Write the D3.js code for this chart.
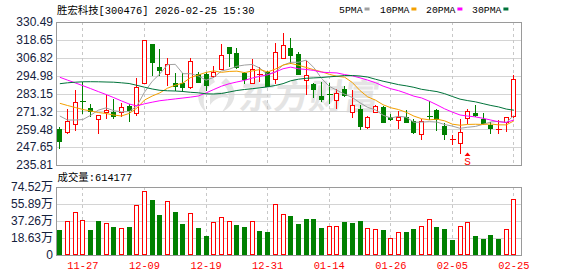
<!DOCTYPE html>
<html><head><meta charset="utf-8">
<script src="https://cdn.jsdelivr.net/npm/d3@7"></script>
<style>body{margin:0;background:#fff}svg{display:block}</style>
</head><body><svg id="chart" width="578" height="276"></svg>
<script>
// 胜宏科技 daily K-line with moving averages and volume
const stockName = "胜宏科技";
const stockCode = "300476";
const quoteTime = "2026-02-25 15:30";

const dates = ["11-24","11-25","11-26","11-27","11-28","12-01","12-02","12-03","12-04","12-05",
  "12-08","12-09","12-10","12-11","12-12","12-15","12-16","12-17","12-18","12-19",
  "12-22","12-23","12-24","12-25","12-26","12-29","12-30","12-31","01-05","01-06",
  "01-07","01-08","01-09","01-12","01-13","01-14","01-15","01-16","01-19","01-20",
  "01-21","01-22","01-23","01-26","01-27","01-28","01-29","01-30","02-02","02-03",
  "02-04","02-05","02-06","02-09","02-10","02-11","02-12","02-13","02-24","02-25"];

const open = [259.84,257.9,262.8,278.0,273.55,266.07,270.7,270.9,271.1,275.07,
  270.0,290.4,315.9,300.7,295.86,290.3,289.9,287.65,295.86,296.26,
  294.7,299.4,313.74,309.96,296.7,290.3,295.9,297.2,292.5,306.85,
  313.1,309.1,291.9,289.6,281.3,282.7,278.65,286.1,270.7,273.1,
  261.2,271.1,274.4,267.8,265.5,267.4,264.95,256.1,268.0,272.2,
  261.6,252.6,250.2,266.7,270.0,266.5,262.3,259.4,264.5,268.45];
const high = [261.19,272.9,285.5,290.97,276.2,269.2,281.96,279.5,277.06,276.2,
  293.2,318.6,316.2,312.4,306.45,296.9,296.5,306.45,297.6,297.6,
  301.36,315.9,314.0,313.1,297.6,305.8,300.5,298.2,316.4,323.4,
  320.1,310.6,304.9,290.0,290.97,289.9,286.1,288.1,285.5,275.5,
  268.25,275.5,275.0,269.4,271.8,272.2,266.07,266.27,278.4,272.7,
  263.4,255.67,266.07,273.1,275.5,270.0,264.5,265.6,267.8,295.4];
const low = [247.3,257.2,259.0,270.0,268.25,257.2,267.1,267.1,268.25,265.1,
  268.9,289.9,295.4,295.4,288.6,285.5,284.8,287.0,291.0,285.5,
  294.3,299.3,301.6,299.8,290.3,289.9,291.4,288.0,289.9,306.45,
  303.14,295.9,282.8,280.6,278.4,276.7,273.75,281.3,267.8,259.6,
  260.5,270.9,264.5,265.6,260.5,264.5,257.2,253.2,266.3,259.0,
  253.0,249.7,243.96,263.8,268.25,262.96,256.8,256.8,258.5,267.8];
const close = [251.9,264.98,277.5,277.7,271.56,268.9,272.4,268.25,274.0,272.2,
  287.25,318.37,304.2,298.9,302.5,288.3,287.25,304.47,291.0,288.8,
  297.6,308.5,310.2,300.9,292.7,299.57,296.2,288.3,310.4,315.26,
  308.84,296.25,295.4,285.9,279.5,282.4,283.3,282.2,275.3,261.6,
  267.4,274.9,264.5,266.1,267.5,264.5,257.9,264.95,267.7,266.07,
  256.3,252.9,257.46,271.4,268.7,263.4,260.5,259.6,267.4,292.5];
// volume in 万手
const volume = [27.4,36.9,46.8,38.0,27.4,37.3,34.7,30.7,29.6,30.7,
  54.4,69.8,60.3,43.8,58.8,47.1,34.0,45.7,29.6,20.8,
  35.8,41.3,36.9,32.9,30.7,36.9,26.3,25.2,55.5,44.6,
  42.7,34.0,39.5,39.5,29.6,31.4,31.4,36.2,35.1,37.3,
  29.2,28.2,27.4,18.3,24.9,25.2,28.5,31.4,39.1,30.7,
  28.5,16.4,31.4,35.8,20.8,17.5,21.9,17.5,28.2,61.4177];

// moving-average values for days whose window starts before the first bar shown
const ma5Head = [268.25,265.6,265.6,265.93];
const ma10Head = [276.66,275.2,273.88,272.55,271.56,270.57,269.91,268.91,268.25];
const ma20Head = [293.88,292.02,290.17,288.31,286.39,284.41,282.49,280.43,278.25,276.2,
  274.94,276.33,277.39,278.38,278.98,279.57,280.17,280.77,281.5];
const ma30Head = [289.64,290.23,290.63,290.9,290.96,290.9,290.76,290.63,290.23,289.77,
  288.58,287.32,286.13,285.27,284.94,284.8,284.47,283.94,283.61,282.95,
  282.82,283.15,284.14,285.14,285.8,286.33,286.92,287.59,288.45];

const priceTicks = [235.81,247.65,259.48,271.32,283.15,294.98,306.82,318.65,330.49];
const volumeTicks = [0,18.63,37.26,55.89,74.52];
const dateTicks = ["11-27","12-09","12-19","12-31","01-14","01-26","02-05","02-25"];
const maNames = ["5PMA","10PMA","20PMA","30PMA"];
const signalDay = "02-09";

const UP = "#ff0000", DOWN = "#008000";
const maColors = ["#a0a0a0","#f4a000","#ff00ff","#00733a"];
const labelColor = "#14213d";
const gridColor = "#d4d4d4";
const frameColor = "#9a9a9a";
const monoFont = "'Liberation Mono','Noto Sans CJK SC',monospace";
const sansFont = "'Liberation Sans','Noto Sans CJK SC',sans-serif";

const L = 56, R = 522;
const mainTop = 22, mainBottom = 165;
const volTop = 187, volBottom = 255;

const svg = d3.select("#chart");

const x = d3.scaleBand().domain(dates).range([L, 517.8]).padding(0);
const cx = d => Math.floor(x(d) + x.bandwidth() / 2) + 0.5;
const y = d3.scaleLinear().domain([235.81, 330.49]).range([mainBottom, mainTop]);
const yv = d3.scaleLinear().domain([0, 74.52]).range([volBottom, volTop]);

// moving averages from closes, seeded by the lead-in values
function movingAverage(n, head) {
  return close.map((c, i) => {
    if (i < head.length) return head[i];
    return d3.mean(close.slice(i - n + 1, i + 1));
  });
}
const maSeries = [movingAverage(5, ma5Head), movingAverage(10, ma10Head),
  movingAverage(20, ma20Head), movingAverage(30, ma30Head)];

// watermark
const wm = svg.append("g").attr("fill", "#e4e4e4").attr("stroke", "none");
wm.append("path")
  .attr("d", "M212,76 C196,84 194,102 206,112 C201,100 204,88 215,82 Z M226,78 C238,88 238,104 222,112 C231,100 231,89 221,83 Z M210,96 C217,89 227,91 229,98 C222,96 215,98 210,105 Z");
wm.append("text").attr("x", 238).attr("y", 109)
  .attr("font-family", "'Noto Sans CJK SC',sans-serif").attr("font-weight", "bold")
  .attr("font-size", 35).attr("transform", "skewX(-8) translate(15,0)")
  .text("东方财富");

// horizontal gridlines
const grid = svg.append("g").attr("stroke", gridColor).attr("shape-rendering", "crispEdges");
priceTicks.slice(1, -1).forEach(t => {
  grid.append("line").attr("x1", L).attr("x2", R).attr("y1", Math.round(y(t)) + 0.5).attr("y2", Math.round(y(t)) + 0.5);
});
volumeTicks.slice(1, -1).forEach(t => {
  grid.append("line").attr("x1", L).attr("x2", R).attr("y1", Math.round(yv(t)) + 0.5).attr("y2", Math.round(yv(t)) + 0.5);
});
// vertical dashed gridlines at labelled dates
dateTicks.forEach(d => {
  [[mainTop, mainBottom], [volTop, volBottom]].forEach(([a, b]) => {
    grid.append("line").attr("x1", cx(d)).attr("x2", cx(d)).attr("y1", a).attr("y2", b)
      .attr("stroke-dasharray", "3,3").attr("stroke", "#c8c8c8");
  });
});

// candles
const candles = svg.append("g").attr("shape-rendering", "crispEdges");
dates.forEach((d, i) => {
  const o = open[i], c = close[i], up = c > o;
  const col = up ? UP : DOWN;
  const xc = cx(d);
  candles.append("line").attr("x1", xc).attr("x2", xc)
    .attr("y1", Math.round(y(high[i]))).attr("y2", Math.round(y(low[i])) + 1)
    .attr("stroke", col);
  const top = Math.round(y(Math.max(o, c))), bot = Math.round(y(Math.min(o, c)));
  if (bot - top < 2) {
    candles.append("line").attr("x1", xc - 3).attr("x2", xc + 3)
      .attr("y1", top + 0.5).attr("y2", top + 0.5).attr("stroke", col).attr("stroke-width", 1);
  } else if (up) {
    candles.append("rect").attr("x", xc - 2).attr("y", top + 0.5).attr("width", 4).attr("height", bot - top)
      .attr("fill", "#fff").attr("stroke", col);
  } else {
    candles.append("rect").attr("x", xc - 2.5).attr("y", top).attr("width", 5).attr("height", bot - top + 1)
      .attr("fill", col);
  }
});

// moving average lines
const line = d3.line().x((v, i) => x(dates[i]) + x.bandwidth() / 2).y(v => y(v));
maSeries.forEach((s, k) => {
  svg.append("path").datum(s).attr("d", line).attr("fill", "none")
    .attr("stroke", maColors[k]).attr("stroke-width", 1);
});

// sell signal marker
const sx = cx(signalDay);
svg.append("path").attr("d", `M${sx},152.5 L${sx + 3},156 L${sx - 3},156 Z`).attr("fill", UP);
svg.append("text").attr("x", sx).attr("y", 164.5).attr("text-anchor", "middle")
  .attr("font-family", monoFont).attr("font-size", 11).attr("fill", UP).text("S");

// volume bars, coloured by change from previous close
const vbars = svg.append("g").attr("shape-rendering", "crispEdges");
dates.forEach((d, i) => {
  const up = i === 0 ? close[i] > open[i] : close[i] >= close[i - 1];
  const xc = cx(d);
  const top = Math.round(yv(volume[i]));
  if (up) {
    vbars.append("rect").attr("x", xc - 2).attr("y", top + 0.5).attr("width", 4).attr("height", volBottom - top - 1)
      .attr("fill", "#fff").attr("stroke", UP);
  } else {
    vbars.append("rect").attr("x", xc - 2.5).attr("y", top).attr("width", 5).attr("height", volBottom - top)
      .attr("fill", DOWN);
  }
});

// frames
const frames = svg.append("g").attr("fill", "none").attr("stroke", frameColor).attr("shape-rendering", "crispEdges");
frames.append("rect").attr("x", L + 0.5).attr("y", mainTop + 0.5).attr("width", R - L - 1).attr("height", mainBottom - mainTop);
frames.append("rect").attr("x", L + 0.5).attr("y", volTop + 0.5).attr("width", R - L - 1).attr("height", volBottom - volTop);

// axes
const priceAxis = svg.append("g").attr("transform", `translate(${L},0)`)
  .call(d3.axisLeft(y).tickValues(priceTicks).tickSize(0).tickPadding(3).tickFormat(d => d.toFixed(2)));
const volAxis = svg.append("g").attr("transform", `translate(${L},0)`)
  .call(d3.axisLeft(yv).tickValues(volumeTicks).tickSize(0).tickPadding(3)
    .tickFormat(d => d === 0 ? "0" : d.toFixed(2) + "万"));
[priceAxis, volAxis].forEach(g => {
  g.select(".domain").remove();
  g.selectAll("text").attr("font-family", sansFont).attr("font-size", 12).attr("fill", labelColor);
});
const dateAxis = svg.append("g").attr("transform", `translate(0,${volBottom})`)
  .call(d3.axisBottom(x).tickValues(dateTicks).tickSize(0).tickPadding(7));
dateAxis.select(".domain").remove();
dateAxis.selectAll("text").attr("font-family", monoFont).attr("font-size", 10.4).attr("fill", UP);

// title
svg.append("text").attr("x", 57).attr("y", 13.5).attr("font-family", monoFont).attr("font-size", 10.4)
  .attr("fill", "#000").text(`${stockName}[${stockCode}] ${quoteTime}`);

// legend
const legendX = [339, 380, 426, 472];
maNames.forEach((n, k) => {
  const t = svg.append("text").attr("x", legendX[k]).attr("y", 13).attr("font-family", monoFont)
    .attr("font-size", 9.8).attr("fill", "#000").text(n);
  const w = t.node().getComputedTextLength();
  svg.append("rect").attr("x", legendX[k] + w + 2).attr("y", 7.5).attr("width", 5).attr("height", 3)
    .attr("fill", maColors[k]);
});

// volume readout
svg.append("text").attr("x", 57.5).attr("y", 181).attr("font-family", monoFont).attr("font-size", 10.4)
  .attr("fill", "#000").text("成交量:" + Math.round(volume[volume.length - 1] * 10000));
</script>
</body></html>
